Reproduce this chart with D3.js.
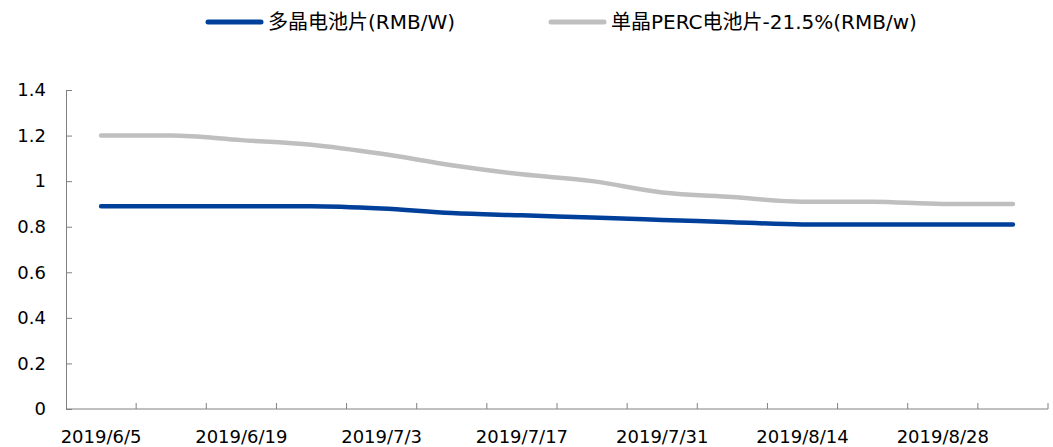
<!doctype html>
<html lang="zh">
<head>
<meta charset="utf-8">
<title>电池片价格</title>
<style>
  body { margin: 0; background: #fff; }
  svg { display: block; font-family: "DejaVu Sans", Verdana, "Noto Sans CJK SC", sans-serif; }
</style>
</head>
<body>
<div id="chart"></div>
<script src="https://d3js.org/d3.v7.min.js"></script>
<script>
// weekly dates
const dates = ["2019/6/5","2019/6/12","2019/6/19","2019/6/26","2019/7/3","2019/7/10","2019/7/17",
               "2019/7/24","2019/7/31","2019/8/7","2019/8/14","2019/8/21","2019/8/28","2019/9/4"];
const multiCell = [0.89,0.89,0.89,0.89,0.88,0.86,0.85,0.84,0.83,0.82,0.81,0.81,0.81,0.81];
const percCell  = [1.20,1.20,1.18,1.16,1.12,1.07,1.03,1.00,0.95,0.93,0.91,0.91,0.90,0.90];
const seriesNames = ["多晶电池片(RMB/W)", "单晶PERC电池片-21.5%(RMB/w)"];
const seriesColors = ["#00409a", "#bfbfbf"];
const yTicks = [0, 0.2, 0.4, 0.6, 0.8, 1, 1.2, 1.4];

const width = 1053, height = 447;
const margin = {left: 66, right: 5, top: 90, bottom: 38};

const svg = d3.select("#chart").append("svg")
    .attr("width", width)
    .attr("height", height);

const x = d3.scaleBand()
    .domain(dates)
    .range([margin.left, width - margin.right]);

const y = d3.scaleLinear()
    .domain([0, 1.4])
    .range([height - margin.bottom, margin.top]);

// y axis
const yAxis = svg.append("g")
    .attr("transform", "translate(" + margin.left + ",0)")
    .call(d3.axisRight(y).tickValues(yTicks).tickSize(6).tickFormat(d3.format("")));
yAxis.selectAll("text").remove();
yAxis.select(".domain").attr("stroke", "#808080");
yAxis.selectAll(".tick line").attr("stroke", "#808080");

svg.append("g").selectAll("text")
    .data(yTicks)
    .enter().append("text")
    .attr("x", margin.left - 20)
    .attr("y", d => y(d))
    .attr("dy", "0.35em")
    .attr("text-anchor", "end")
    .attr("font-size", 18)
    .attr("fill", "#000")
    .text(d => d3.format("")(d));

// x axis, ticks between categories, pointing up
const xg = svg.append("g")
    .attr("transform", "translate(0," + y(0) + ")");
xg.append("line")
    .attr("x1", margin.left).attr("x2", width - margin.right)
    .attr("stroke", "#808080");
xg.selectAll("line.tk")
    .data(dates.slice(1).concat(["end"]))
    .enter().append("line")
    .attr("class", "tk")
    .attr("x1", (d, i) => margin.left + x.step() * (i + 1))
    .attr("x2", (d, i) => margin.left + x.step() * (i + 1))
    .attr("y1", 0).attr("y2", -6)
    .attr("stroke", "#808080");
xg.selectAll("text")
    .data(dates.filter((d, i) => i % 2 === 0))
    .enter().append("text")
    .attr("x", d => x(d) + x.bandwidth() / 2)
    .attr("y", 34)
    .attr("text-anchor", "middle")
    .attr("font-size", 18)
    .attr("fill", "#000")
    .text(d => d);

// lines
const line = d3.line()
    .x((d, i) => x(dates[i]) + x.bandwidth() / 2)
    .y(d => y(d))
    .curve(d3.curveMonotoneX);

[multiCell, percCell].forEach((vals, k) => {
  svg.append("path")
      .datum(vals)
      .attr("d", line)
      .attr("fill", "none")
      .attr("stroke", seriesColors[k])
      .attr("stroke-width", 4.5)
      .attr("stroke-linecap", "round")
      .attr("stroke-linejoin", "round");
});

// legend
const legendX = [208, 551];
const legend = svg.append("g");
seriesNames.forEach((name, k) => {
  legend.append("line")
      .attr("x1", legendX[k]).attr("x2", legendX[k] + 53)
      .attr("y1", 22).attr("y2", 22)
      .attr("stroke", seriesColors[k])
      .attr("stroke-width", 5)
      .attr("stroke-linecap", "round");
  legend.append("text")
      .attr("x", legendX[k] + 60)
      .attr("y", 22)
      .attr("dy", "0.35em")
      .attr("font-size", 20)
      .attr("fill", "#000")
      .text(name);
});
</script>
</body>
</html>
